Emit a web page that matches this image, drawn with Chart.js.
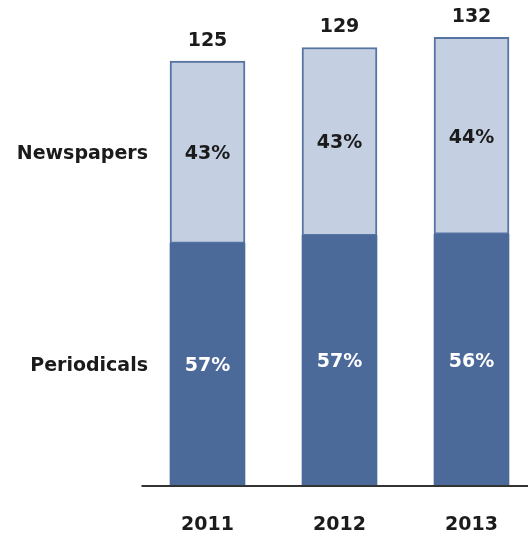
<!DOCTYPE html>
<html lang="en">
<head>
    <meta charset="UTF-8">
    <title>Newspapers and Periodicals</title>
    <script src="https://cdn.jsdelivr.net/npm/chart.js"></script>
    <style>
        html, body {
            margin: 0;
            padding: 0;
            background-color: #ffffff;
            overflow: hidden;
        }
        #chart-container {
            width: 540px;
            height: 539px;
        }
        #chart {
            display: block;
        }
    </style>
</head>
<body>
    <div id="chart-container">
        <canvas id="chart" width="540" height="539"></canvas>
    </div>

    <script>
        // titles per year, total count and the share of each kind
        var years = ['2011', '2012', '2013'];
        var totals = [125, 129, 132];
        var periodicalShare = [57, 57, 56];
        var newspaperShare = [43, 43, 44];
        var seriesNames = ['Periodicals', 'Newspapers'];

        var periodicals = totals.map((t, i) => t * periodicalShare[i] / 100);
        var newspapers = totals.map((t, i) => t * newspaperShare[i] / 100);

        var labelFont = 'bold 19px "DejaVu Sans", sans-serif';
        var textColor = '#1b1b1b';

        // labels, totals and the base line are drawn on top of the bars
        var labelPlugin = {
            id: 'barLabels',
            afterDatasetsDraw: function(chart) {
                var ctx = chart.ctx;
                var area = chart.chartArea;
                var shares = [periodicalShare, newspaperShare];

                ctx.save();
                ctx.strokeStyle = '#333333';
                ctx.lineWidth = 2;
                ctx.beginPath();
                ctx.moveTo(area.left, area.bottom + 1);
                ctx.lineTo(chart.width, area.bottom + 1);
                ctx.stroke();

                ctx.font = labelFont;
                ctx.textBaseline = 'middle';

                chart.data.datasets.forEach(function(ds, d) {
                    var meta = chart.getDatasetMeta(d);
                    meta.data.forEach(function(bar, i) {
                        var midY = (bar.y + bar.base) / 2 + 2;
                        ctx.textAlign = 'center';
                        ctx.fillStyle = d === 0 ? '#ffffff' : textColor;
                        ctx.fillText(shares[d][i] + '%', bar.x, midY);

                        if (i === 0) {
                            ctx.textAlign = 'right';
                            ctx.fillStyle = textColor;
                            ctx.fillText(seriesNames[d], bar.x - bar.width / 2 - 22, midY);
                        }
                    });
                });

                var topMeta = chart.getDatasetMeta(1);
                ctx.textAlign = 'center';
                ctx.fillStyle = textColor;
                topMeta.data.forEach(function(bar, i) {
                    ctx.fillText(String(totals[i]), bar.x, bar.y - 20);
                    ctx.fillText(years[i], bar.x, area.bottom + 40);
                });
                ctx.restore();
            }
        };

        var chartCanvas = document.getElementById('chart');
        var mediaChart = new Chart(chartCanvas, {
            type: 'bar',
            data: {
                labels: years,
                datasets: [
                    {
                        label: seriesNames[0],
                        data: periodicals,
                        backgroundColor: '#4b6a9a',
                        borderWidth: 0
                    },
                    {
                        label: seriesNames[1],
                        data: newspapers,
                        backgroundColor: '#c4cfe2',
                        borderColor: '#5674a3',
                        borderWidth: 2,
                        borderSkipped: false
                    }
                ]
            },
            options: {
                responsive: false,
                animation: false,
                barThickness: 75,
                layout: {
                    padding: { left: 141.5, right: 2.5, top: 0, bottom: 54 }
                },
                plugins: {
                    legend: { display: false },
                    tooltip: { enabled: false }
                },
                scales: {
                    x: {
                        stacked: true,
                        display: false
                    },
                    y: {
                        stacked: true,
                        display: false,
                        min: 0,
                        max: 143
                    }
                }
            },
            plugins: [labelPlugin]
        });
    </script>
</body>
</html>
